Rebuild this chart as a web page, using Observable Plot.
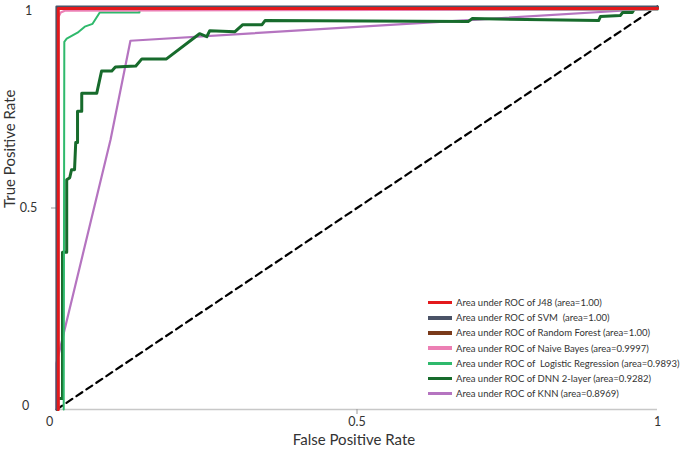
<!DOCTYPE html>
<html><head><meta charset="utf-8">
<script src="https://cdn.jsdelivr.net/npm/d3@7"></script>
<script src="https://cdn.jsdelivr.net/npm/@observablehq/plot@0.6"></script>
<style>
body{margin:0;background:#fff;font-family:Lato,sans-serif}
#wrap{position:relative;width:685px;height:451px}
#legend{position:absolute;left:428px;top:295px;font-family:Lato,sans-serif;font-size:9.5px;color:#333}
.row{display:flex;align-items:center;height:15.2px;white-space:pre}
.sw{width:24px;height:3.5px;margin-right:4px;flex:none}
</style></head><body><div id="wrap"><div id="legend"></div></div>
<script>
// ---- data ----
const modelNames = ["J48","SVM","Random Forest","Naive Bayes","Logistic Regression","DNN 2-layer","KNN"];
const legendLabels = [
  "Area under ROC of J48 (area=1.00)",
  "Area under ROC of SVM  (area=1.00)",
  "Area under ROC of Random Forest (area=1.00)",
  "Area under ROC of Naive Bayes (area=0.9997)",
  "Area under ROC of  Logistic Regression (area=0.9893)",
  "Area under ROC of DNN 2-layer (area=0.9282)",
  "Area under ROC of KNN (area=0.8969)"
];
const modelColors = ["#e3191c","#4a5367","#7a3a1a","#ec7fb4","#2fb96c","#176b2c","#b574c0"];
const modelWidths = [3,2.2,2.5,2.2,2,3,2.2];

const j48Fpr = [0.003,0.003,1];
const j48Tpr = [0,0.995,0.995];
const svmFpr = [0,0,1];
const svmTpr = [0,1,1];
const rfFpr = [0.002,0.002,1];
const rfTpr = [0,0.997,0.997];
const nbFpr = [0.003,0.003,0.007,0.015,1];
const nbTpr = [0,0.973,0.985,0.99,0.993];
const lrFpr = [0.012,0.013,0.017,0.035,0.047,0.06,0.072,0.138,0.138,1];
const lrTpr = [0,0.9125,0.92,0.935,0.95,0.957,0.985,0.985,0.992,0.992];
const dnnFpr = [0.002,0.002,0.01,0.01,0.017,0.017,0.022,0.025,0.03,0.032,0.035,0.035,0.042,0.042,0.067,0.075,0.092,0.098,0.132,0.142,0.183,0.238,0.25,0.255,0.297,0.31,0.342,0.347,0.685,0.692,0.902,0.905,0.938,0.942,0.958,0.963,1];
const dnnTpr = [0,0.0275,0.0275,0.39,0.39,0.57,0.575,0.595,0.595,0.6625,0.6625,0.74,0.74,0.785,0.785,0.84,0.84,0.85,0.8525,0.87,0.87,0.9325,0.925,0.94,0.9375,0.955,0.955,0.965,0.9625,0.97,0.965,0.975,0.9775,0.985,0.985,0.9975,0.995];
const knnFpr = [0,0,0.09,0.123,1];
const knnTpr = [0,0.115,0.67,0.915,0.995];

const chanceFpr = [0,1];
const chanceTpr = [0,1];

const xTicks = [0,0.5,1];
const xTickLabels = ["0","0.5","1"];
const yTicks = [0,0.5,1];
const yTickLabels = ["0","0.5","1"];
const xTitle = "False Positive Rate";
const yTitle = "True Positive Rate";

// ---- build ----
const curves = [
  [j48Fpr,j48Tpr],[svmFpr,svmTpr],[rfFpr,rfTpr],[nbFpr,nbTpr],
  [lrFpr,lrTpr],[dnnFpr,dnnTpr],[knnFpr,knnTpr]
];
const toRows = (f,t,i) => f.map((x,k)=>({x, y:t[k], model:modelNames[i]}));
const drawOrder = [6,5,4,3,2,1,0];
const lineMarks = drawOrder.map(i => Plot.line(toRows(curves[i][0],curves[i][1],i),
  {x:"x", y:"y", stroke: modelColors[i], strokeWidth: modelWidths[i], curve:"linear"}));
const chance = chanceFpr.map((x,k)=>({x, y:chanceTpr[k]}));
const xl = v => xTickLabels[xTicks.indexOf(v)];
const yl = v => yTickLabels[yTicks.indexOf(v)];

const chart = Plot.plot({
  width:685, height:451,
  marginLeft:56, marginRight:28, marginTop:6, marginBottom:42,
  x:{domain:[0,1]}, y:{domain:[0,1]},
  style:{fontFamily:"Lato, sans-serif", background:"white", color:"#333"},
  marks:[
    Plot.ruleY([0], {stroke:"#c8c8c8", strokeWidth:1.5}),
    Plot.axisX([xTicks[1]], {tickSize:5, tickPadding:3, fontSize:12.5, stroke:"#999", tickFormat:xl, label:null}),
    Plot.axisX([xTicks[2]], {tickSize:0, tickPadding:8, fontSize:12.5, tickFormat:xl, label:null}),
    Plot.axisX([xTicks[0]], {tickSize:0, tickPadding:8, fontSize:12.5, dx:-7, tickFormat:xl, label:null}),
    Plot.axisY([yTicks[1]], {tickSize:5, tickPadding:23, textAnchor:"middle", fontSize:12.5, stroke:"#999", tickFormat:yl, label:null}),
    Plot.axisY([yTicks[2]], {tickSize:0, tickPadding:28, textAnchor:"middle", dy:4, fontSize:12.5, tickFormat:yl, label:null}),
    Plot.axisY([yTicks[0]], {tickSize:0, tickPadding:28, textAnchor:"middle", dy:-4, dx:-3, fontSize:12.5, tickFormat:yl, label:null}),
    Plot.text([xTitle], {frameAnchor:"bottom", dy:35, dx:-3, fontSize:15, fill:"#333"}),
    Plot.text([yTitle], {frameAnchor:"left", rotate:-90, dx:-46, fontSize:15, fill:"#333"}),
    Plot.line(chance, {x:"x", y:"y", stroke:"black", strokeWidth:2.2, strokeDasharray:"7,5"}),
    ...lineMarks
  ]
});
const wrap = document.getElementById("wrap");
wrap.insertBefore(chart, wrap.firstChild);
chart.style.position = "absolute"; chart.style.left = "0"; chart.style.top = "0";

const legend = document.getElementById("legend");
legendLabels.forEach((lab,i)=>{
  const r = document.createElement("div"); r.className="row";
  const s = document.createElement("div"); s.className="sw"; s.style.background = modelColors[i];
  const t = document.createElement("span"); t.textContent = lab;
  r.appendChild(s); r.appendChild(t); legend.appendChild(r);
});
</script></body></html>
